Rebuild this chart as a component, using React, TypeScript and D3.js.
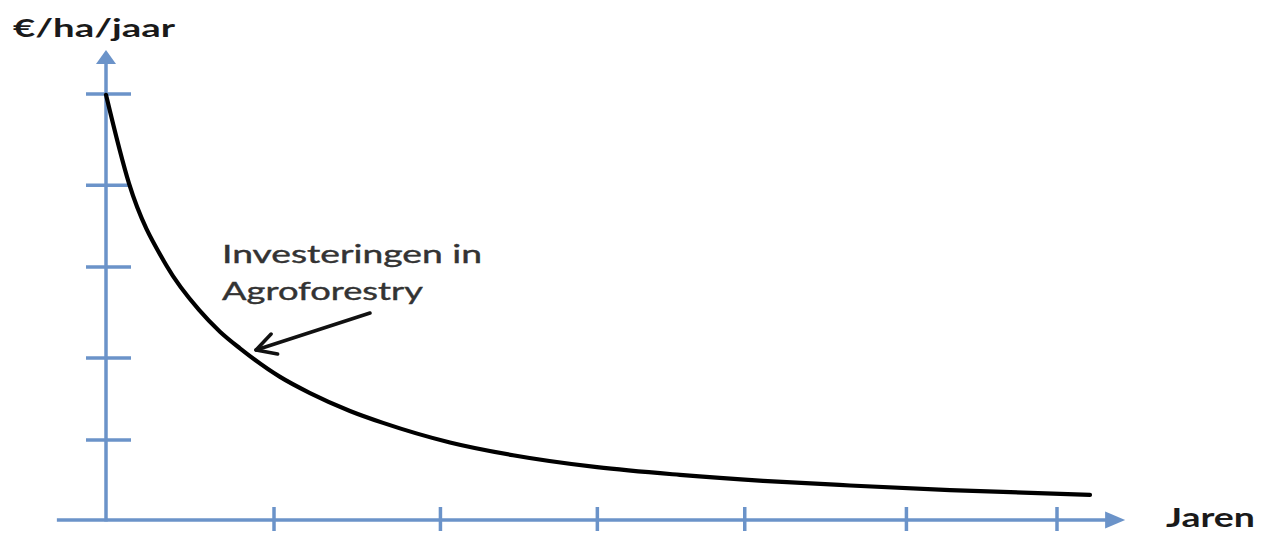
import React from "react";
import * as d3 from "d3";

// Curve: investment per hectare per year over the years
const curveYears = [0, 0.145, 0.385, 0.587, 0.719, 0.845, 1.098, 1.287, 1.539, 1.748, 2.17, 2.568, 3.098, 3.621, 4.145, 4.694, 5.325, 6.208];
const curveValues = [99.8, 79, 59.5, 49.3, 44.2, 40.3, 33.6, 29.8, 25.6, 22.8, 18.2, 15.2, 12.4, 10.6, 9.2, 8.1, 7.0, 5.9];
const xTickValues = [1.06, 2.11, 3.1, 4.03, 5.05, 6];
const yTickValues = [18.8, 38.0, 59.4, 78.6, 100];
const yAxisLabel = "€/ha/jaar";
const xAxisLabel = "Jaren";
const annotationLines = ["Investeringen in", "Agroforestry"];

const W = 1261;
const H = 534;
const AXIS = "#6b93c9";

export default function App() {
  const x = d3.scaleLinear().domain([0, 6]).range([106, 1057]);
  const y = d3.scaleLinear().domain([0, 100]).range([520, 94]);

  const pts: [number, number][] = curveYears.map((d, i) => [d, curveValues[i]]);
  const line = d3
    .line<[number, number]>()
    .x((d) => x(d[0]))
    .y((d) => y(d[1]))
    .curve(d3.curveMonotoneX);

  const x0 = x(0);
  const y0 = y(0);
  const xLeft = x(-0.31);
  const xTip = x(6.43);
  const yTip = y(110.3);

  // annotation arrow (tail -> tip on the curve)
  const tail: [number, number] = [370, 313];
  const tip: [number, number] = [256, 350];
  const ang = Math.atan2(tail[1] - tip[1], tail[0] - tip[0]);
  const barb = 22;
  const spread = 0.5;
  const b1 = [tip[0] + barb * Math.cos(ang - spread), tip[1] + barb * Math.sin(ang - spread)];
  const b2 = [tip[0] + barb * Math.cos(ang + spread), tip[1] + barb * Math.sin(ang + spread)];

  return (
    <svg
      width={W}
      height={H}
      viewBox={`0 0 ${W} ${H}`}
      style={{ position: "absolute", left: 0, top: 0, background: "#fff" }}
    >
      <rect x={0} y={0} width={W} height={H} fill="#fff" />
      {/* axes */}
      <g stroke={AXIS} strokeWidth={3.5} fill="none">
        <line x1={xLeft} y1={y0} x2={xTip - 18} y2={y0} />
        <line x1={x0} y1={y0 + 1.5} x2={x0} y2={yTip + 12} />
        {yTickValues.map((v) => (
          <line key={"yt" + v} x1={x0 - 20} x2={x0 + 25} y1={y(v)} y2={y(v)} />
        ))}
        {xTickValues.map((v) => (
          <line key={"xt" + v} x1={x(v)} x2={x(v)} y1={y0 - 13} y2={y0 + 11} />
        ))}
      </g>
      <path
        d={`M${xTip},${y0} L${xTip - 20},${y0 - 8.5} L${xTip - 20},${y0 + 8.5} Z`}
        fill={AXIS}
      />
      <path
        d={`M${x0},${yTip} L${x0 - 10},${yTip + 14} L${x0 + 10},${yTip + 14} Z`}
        fill={AXIS}
      />
      {/* curve */}
      <path d={line(pts) || ""} fill="none" stroke="#000" strokeWidth={4.2} strokeLinecap="round" />
      {/* annotation */}
      <g stroke="#111" strokeWidth={3.5} fill="none" strokeLinecap="round" strokeLinejoin="round">
        <line x1={tail[0]} y1={tail[1]} x2={tip[0]} y2={tip[1]} />
        <polyline points={`${b1[0]},${b1[1]} ${tip[0]},${tip[1]} ${b2[0]},${b2[1]}`} />
      </g>
      <g fontFamily="Lato, 'Open Sans', sans-serif" fill="#333" stroke="#333" strokeWidth={0.4}>
        <text x={222} y={263} fontSize={25} textLength={260} lengthAdjust="spacingAndGlyphs">
          {annotationLines[0]}
        </text>
        <text x={222} y={300} fontSize={25} textLength={201} lengthAdjust="spacingAndGlyphs">
          {annotationLines[1]}
        </text>
      </g>
      <g fontFamily="Lato, 'Open Sans', sans-serif" fontWeight="bold" fill="#1a1a1a">
        <text x={13} y={37} fontSize={24} textLength={162} lengthAdjust="spacingAndGlyphs">
          {yAxisLabel}
        </text>
        <text x={1166} y={527} fontSize={26} textLength={89} lengthAdjust="spacingAndGlyphs">
          {xAxisLabel}
        </text>
      </g>
    </svg>
  );
}
